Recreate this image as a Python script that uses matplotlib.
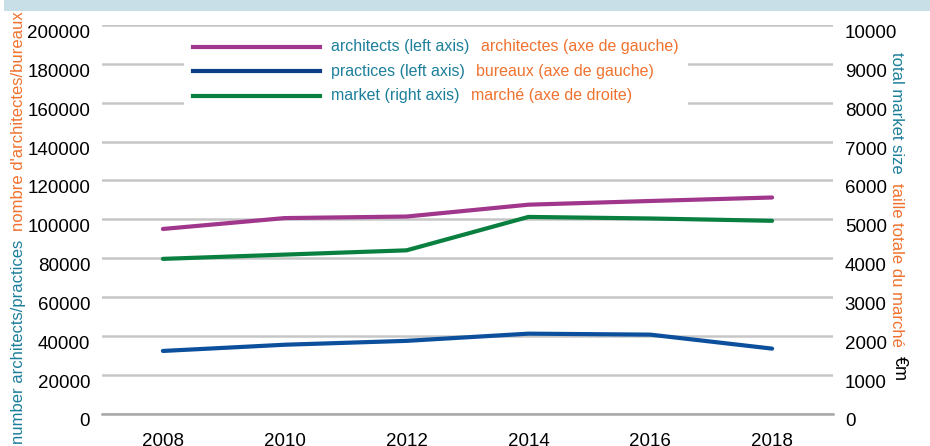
import matplotlib
matplotlib.use('Agg')
import matplotlib.pyplot as plt
from matplotlib.lines import Line2D
from matplotlib.patches import Rectangle
from matplotlib.offsetbox import AnchoredOffsetbox, VPacker, HPacker, TextArea, DrawingArea
from matplotlib.transforms import ScaledTranslation

# ---- data ----
years = [2008, 2010, 2012, 2014, 2016, 2018]
architects = [95000, 100600, 101400, 107500, 109400, 111200]
practices = [32200, 35400, 37400, 41100, 40600, 33400]
market = [3980, 4090, 4200, 5060, 5020, 4960]

left_ticks = list(range(0, 200001, 20000))
right_ticks = list(range(0, 10001, 1000))
x_ticks = years

legend_en = ["architects (left axis)", "practices (left axis)", "market (right axis)"]
legend_fr = ["architectes (axe de gauche)", "bureaux (axe de gauche)", "marché (axe de droite)"]

# ---- style ----
PURPLE = '#a0378c'
BLUE = '#0c4f9c'
BLUE_LEG = '#0d3d85'
GREEN = '#0a8040'
TEAL = '#1d7f9a'
ORANGE = '#f0722f'
GRID = '#c6c6c6'

plt.rcParams['font.family'] = ['Liberation Sans', 'DejaVu Sans']

W, H = 930, 446
fig = plt.figure(figsize=(W / 100, H / 100), dpi=100)
ax = fig.add_axes([102 / W, (H - 413.5) / H, 731 / W, 388.5 / H])
ax2 = ax.twinx()

ax.plot(years, architects, color=PURPLE, lw=3, solid_capstyle='round', solid_joinstyle='round', zorder=3)
ax.plot(years, practices, color=BLUE, lw=3, solid_capstyle='round', solid_joinstyle='round', zorder=3)
ax2.plot(years, market, color=GREEN, lw=3, solid_capstyle='round', solid_joinstyle='round', zorder=3)

ax.set_xlim(2007, 2019)
ax.set_ylim(0, 200000)
ax2.set_ylim(0, 10000)
ax.set_xticks(x_ticks)
ax.set_xticklabels([str(y) for y in x_ticks])
ax.set_yticks(left_ticks)
ax.set_yticklabels([str(v) for v in left_ticks])
ax2.set_yticks(right_ticks)
ax2.set_yticklabels([str(v) for v in right_ticks])

ax.grid(axis='y', color=GRID, lw=1.8)
ax.set_axisbelow(True)
for s in ax.spines.values():
    s.set_visible(False)
for s in ax2.spines.values():
    s.set_visible(False)
ax.spines['bottom'].set_visible(True)
ax.spines['bottom'].set_color('#a8a8a8')
ax.spines['bottom'].set_linewidth(1.8)

ax.tick_params(axis='both', length=0, labelsize=13.5)
ax.tick_params(axis='y', pad=8.5)
ax.tick_params(axis='x', pad=14)
ax2.tick_params(axis='y', length=0, labelsize=13.5, pad=8.5)

off = ScaledTranslation(0, -6.5 / 100, fig.dpi_scale_trans)
for t in ax.yaxis.get_major_ticks():
    t.label1.set_transform(t.label1.get_transform() + off)
for t in ax2.yaxis.get_major_ticks():
    t.label2.set_transform(t.label2.get_transform() + off)

# ---- axis titles (two-coloured) ----
fig.text(19 / W, (H - 444) / H, "number architects/practices", rotation=90,
         ha='center', va='bottom', color=TEAL, fontsize=12)
fig.text(19 / W, (H - 231) / H, "nombre d'architectes/bureaux", rotation=90,
         ha='center', va='bottom', color=ORANGE, fontsize=12)

fig.text(896 / W, (H - 52) / H, "total market size", rotation=270,
         ha='center', va='top', color=TEAL, fontsize=12)
fig.text(896 / W, (H - 183) / H, "taille totale du marché", rotation=270,
         ha='center', va='top', color=ORANGE, fontsize=12)
fig.text(899 / W, (H - 356) / H, "€m", rotation=270,
         ha='center', va='top', color='black', fontsize=13)

# ---- legend ----
fig.add_artist(Rectangle((184 / W, (H - 110) / H), (688 - 184) / W, 78 / H,
                         transform=fig.transFigure, facecolor='white',
                         edgecolor='none', zorder=1))
rows = []
handle_colors = [PURPLE, BLUE_LEG, GREEN]
for c, en, fr in zip(handle_colors, legend_en, legend_fr):
    da = DrawingArea(127 * 0.72, 8, 0, 0)
    da.add_artist(Line2D([0, 127 * 0.72], [4, 4], color=c, lw=3))
    row = HPacker(children=[da,
                            TextArea(en, textprops=dict(color=TEAL, fontsize=11.5)),
                            TextArea(fr, textprops=dict(color=ORANGE, fontsize=11.5))],
                  sep=8, align='center', pad=0)
    rows.append(row)
box = VPacker(children=rows, sep=6.8, align='left', pad=0)
anch = AnchoredOffsetbox(loc='upper left', child=box, pad=0, borderpad=0,
                         frameon=False, bbox_to_anchor=(193 / W, (H - 39.5) / H),
                         bbox_transform=fig.transFigure)
anch.set_zorder(2)
fig.add_artist(anch)

# ---- top band ----
fig.add_artist(Rectangle((4 / W, (H - 10.5) / H), 1, 10.5 / H, transform=fig.transFigure,
                         facecolor='#c9dfe7', edgecolor='none', zorder=5))

fig.savefig('out.png', dpi=100)
